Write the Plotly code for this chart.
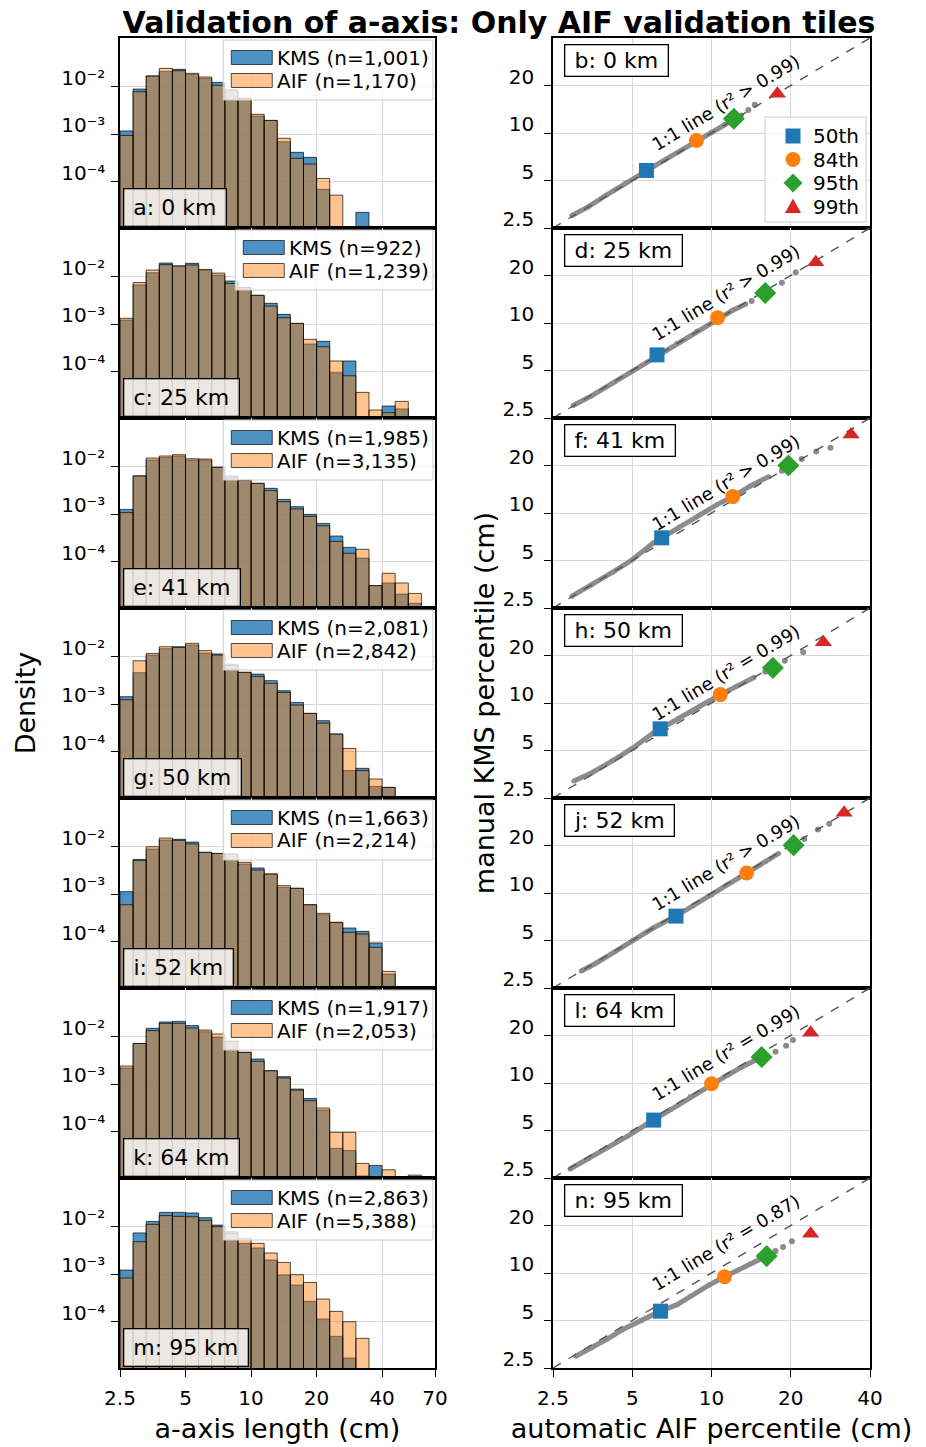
import math
import plotly.graph_objects as go

W, H = 926, 1447
FONT = "DejaVu Sans"

# ---------------- data ----------------
# histogram bins: log-spaced, 5 bins per doubling starting at 2.5 cm
BIN_START = 2.5
BINS_PER_DOUBLING = 5

left_labels = ["a: 0 km", "c: 25 km", "e: 41 km", "g: 50 km", "i: 52 km", "k: 64 km", "m: 95 km"]
right_labels = ["b: 0 km", "d: 25 km", "f: 41 km", "h: 50 km", "j: 52 km", "l: 64 km", "n: 95 km"]

kms_n = ["1,001", "922", "1,985", "2,081", "1,663", "1,917", "2,863"]
aif_n = ["1,170", "1,239", "3,135", "2,842", "2,214", "2,053", "5,388"]

# densities per bin (0 = empty bin)
kms_a = [1.17e-3, 8.9e-3, 1.68e-2, 2.10e-2, 2.32e-2, 1.82e-2, 1.50e-2, 1.23e-2, 8.5e-3, 5.7e-3,
         2.41e-3, 1.95e-3, 6.95e-4, 4.15e-4, 3.25e-4, 6.9e-5, 0, 0, 2.26e-5]
aif_a = [9.4e-4, 7.85e-3, 1.68e-2, 2.43e-2, 2.17e-2, 1.91e-2, 1.60e-2, 1.07e-2, 8.5e-3, 5.7e-3,
         2.62e-3, 1.95e-3, 8.2e-4, 3.1e-4, 2.35e-4, 1.17e-4, 5.2e-5]
kms_c = [1.22e-3, 6.7e-3, 1.21e-2, 1.94e-2, 1.68e-2, 1.91e-2, 1.38e-2, 1.08e-2, 8.1e-3, 5.9e-3,
         4.05e-3, 2.75e-3, 1.61e-3, 1.04e-3, 3.82e-4, 4.35e-4, 9.5e-5, 1.68e-4, 0, 0, 1.89e-5, 1.64e-5]
aif_c = [1.33e-3, 7.5e-3, 1.38e-2, 1.79e-2, 1.68e-2, 1.76e-2, 1.42e-2, 1.19e-2, 7.2e-3, 5.9e-3,
         4.05e-3, 2.41e-3, 1.37e-3, 1.04e-3, 4.8e-4, 3.36e-4, 1.68e-4, 8.2e-5, 3.67e-5, 1.56e-5, 1.37e-5, 2.37e-5]
kms_e = [1.26e-3, 6.4e-3, 1.38e-2, 1.57e-2, 1.68e-2, 1.38e-2, 1.38e-2, 9.7e-3, 6.4e-3, 5.2e-3,
         4.46e-3, 3.5e-3, 2.05e-3, 1.44e-3, 9.9e-4, 6.4e-4, 3.47e-4, 2.0e-4, 1.19e-4, 3.13e-5,
         3.56e-5, 2.08e-5, 1.33e-5]
aif_e = [1.08e-3, 6.4e-3, 1.52e-2, 1.68e-2, 1.79e-2, 1.47e-2, 1.45e-2, 9.7e-3, 5.8e-3, 5.2e-3,
         4.46e-3, 3.13e-3, 1.83e-3, 1.29e-3, 9.0e-4, 5.7e-4, 2.68e-4, 1.5e-4, 1.82e-4, 3.13e-5,
         5.7e-5, 3.56e-5, 2.15e-5]
kms_g = [1.44e-3, 4.6e-3, 1.08e-2, 1.47e-2, 1.62e-2, 1.76e-2, 1.19e-2, 1.14e-2, 7.0e-3, 4.68e-3,
         4.3e-3, 3.13e-3, 1.92e-3, 1.09e-3, 6.4e-4, 4.5e-4, 2.35e-4, 4.0e-5, 4.46e-5, 1.86e-5, 1.77e-5]
aif_g = [1.24e-3, 8.2e-3, 1.17e-2, 1.62e-2, 1.57e-2, 1.91e-2, 1.34e-2, 1.08e-2, 6.5e-3, 4.68e-3,
         3.85e-3, 2.75e-3, 1.77e-3, 9.6e-4, 6.4e-4, 4.0e-4, 2.35e-4, 1.17e-4, 4.0e-5, 2.66e-5, 1.77e-5]
kms_i = [1.13e-3, 5.4e-3, 8.9e-3, 1.38e-2, 1.43e-2, 1.25e-2, 7.6e-3, 7.2e-3, 7.0e-3, 4.3e-3,
         3.56e-3, 2.66e-3, 1.39e-3, 1.33e-3, 6.0e-4, 3.7e-4, 2.55e-4, 1.94e-4, 1.65e-4, 9.4e-5, 2.08e-5]
aif_i = [6.0e-4, 5.15e-3, 1.0e-2, 1.52e-2, 1.36e-2, 1.14e-2, 7.6e-3, 7.2e-3, 7.0e-3, 4.68e-3,
         3.23e-3, 2.66e-3, 1.51e-3, 1.33e-3, 6.0e-4, 3.95e-4, 2.55e-4, 1.57e-4, 1.45e-4, 7.6e-5, 2.37e-5]
kms_k = [2.19e-3, 7.2e-3, 1.50e-2, 2.04e-2, 2.10e-2, 1.71e-2, 1.27e-2, 9.7e-3, 8.0e-3, 4.68e-3,
         3.39e-3, 1.92e-3, 1.44e-3, 7.9e-4, 5.0e-4, 2.86e-4, 4.46e-5, 4.0e-5, 1.17e-5, 1.95e-5]
aif_k = [2.41e-3, 7.2e-3, 1.34e-2, 1.91e-2, 1.91e-2, 1.52e-2, 1.38e-2, 1.14e-2, 8.0e-3, 4.68e-3,
         3.03e-3, 1.92e-3, 1.35e-3, 7.5e-4, 4.5e-4, 3.15e-4, 9.7e-5, 9.7e-5, 2.15e-5, 0, 1.58e-5, 0, 1.22e-5]
kms_m = [1.22e-3, 7.4e-3, 1.29e-2, 2.0e-2, 2.0e-2, 1.94e-2, 1.55e-2, 1.08e-2, 7.85e-3, 4.46e-3,
         3.56e-3, 1.99e-3, 9.6e-4, 5.9e-4, 2.68e-4, 1.14e-4, 4.9e-5, 1.72e-5]
aif_m = [8.3e-4, 4.83e-3, 1.12e-2, 1.71e-2, 1.65e-2, 1.62e-2, 1.36e-2, 1.0e-2, 7.2e-3, 5.7e-3,
         4.46e-3, 2.79e-3, 1.77e-3, 9.75e-4, 6.7e-4, 3.0e-4, 1.65e-4, 1.0e-4, 4.46e-5]

kms_hist = [kms_a, kms_c, kms_e, kms_g, kms_i, kms_k, kms_m]
aif_hist = [aif_a, aif_c, aif_e, aif_g, aif_i, aif_k, aif_m]

# Q-Q plots: percentile curve (automatic AIF x, manual KMS y)
qq_curve_x = [
    [2.95, 3.4, 4.0, 4.7, 5.66, 6.6, 7.6, 8.77, 10.0, 11.2, 12.2, 13.0],
    [2.98, 3.5, 4.2, 5.0, 6.2, 7.4, 8.8, 10.5, 12.0, 13.5],
    [2.95, 3.5, 4.2, 5.0, 6.0, 6.47, 7.5, 9.0, 10.5, 12.04, 14.0, 16.5],
    [3.0, 3.5, 4.2, 5.0, 6.0, 6.38, 7.5, 9.0, 10.8, 12.5, 14.5],
    [3.2, 3.6, 4.3, 5.0, 6.0, 7.33, 8.5, 10.0, 11.5, 13.6, 16.0, 18.0],
    [2.9, 3.4, 4.0, 4.8, 5.6, 6.03, 7.0, 8.3, 10.0, 11.5, 13.0, 15.5],
    [3.05, 3.5, 4.0, 4.6, 5.4, 6.4, 7.4, 8.3, 9.8, 11.2, 12.5, 14.0, 16.2],
]
qq_curve_y = [
    [3.0, 3.4, 4.05, 4.8, 5.75, 6.7, 7.7, 8.9, 10.1, 11.3, 12.3, 13.0],
    [3.0, 3.45, 4.15, 4.95, 6.25, 7.45, 8.9, 10.7, 12.0, 13.2],
    [2.97, 3.5, 4.2, 5.05, 6.45, 6.96, 8.1, 9.7, 11.3, 12.7, 14.8, 17.0],
    [3.2, 3.6, 4.3, 5.15, 6.45, 6.86, 8.0, 9.5, 11.3, 12.8, 14.5],
    [3.2, 3.55, 4.25, 5.0, 6.0, 7.14, 8.3, 9.7, 11.3, 13.4, 15.8, 17.8],
    [2.85, 3.3, 3.9, 4.6, 5.4, 5.82, 6.8, 8.2, 9.9, 11.2, 12.6, 14.6],
    [2.97, 3.35, 3.8, 4.38, 5.0, 5.73, 6.3, 7.1, 8.4, 9.47, 10.35, 11.4, 12.8],
]
qq_tail_x = [[13.8, 14.6], [14.2, 18.5, 20.9], [18.5, 22.0, 25.0, 28.3], [16.0, 19.0, 22.3],
             [22.5, 25.4, 28.0], [17.5, 19.2, 20.4], [17.5, 18.7, 20.2]]
qq_tail_y = [[14.0, 15.1], [13.8, 18.0, 21.0], [18.5, 22.0, 24.5, 25.9], [15.8, 18.5, 21.0],
             [22.0, 25.3, 27.5], [15.8, 17.2, 18.7], [13.8, 14.6, 15.9]]

pct_names = ["50th", "84th", "95th", "99th"]
pct_x = [[5.66, 8.77, 12.16, 17.8], [6.21, 10.54, 16.0, 24.9], [6.47, 12.04, 19.6, 33.9],
         [6.38, 10.8, 17.1, 26.6], [7.33, 13.6, 20.5, 31.9], [6.03, 10.0, 15.5, 23.8],
         [6.4, 11.2, 16.2, 23.8]]
pct_y = [[5.79, 8.96, 12.3, 17.7], [6.28, 10.8, 15.5, 24.3], [6.96, 12.7, 20.0, 31.4],
         [6.86, 11.3, 16.7, 24.3], [7.14, 13.4, 20.1, 32.2], [5.82, 9.9, 14.6, 20.8],
         [5.73, 9.47, 12.8, 17.7]]
r2_text = ["> 0.99", "> 0.99", "> 0.99", "= 0.99", "> 0.99", "= 0.99", "= 0.87"]

hist_ticks = [2.5, 5, 10, 20, 40, 70]
qq_ticks = [2.5, 5, 10, 20, 40]
qq_yticks = [2.5, 5, 10, 20]
dens_ticks = [1e-4, 1e-3, 1e-2]
dens_ticktext = ["10⁻⁴", "10⁻³", "10⁻²"]

# ---------------- styles / layout constants ----------------
KMS_FILL = "rgba(31,119,180,0.8)"
AIF_FILL = "rgba(255,127,14,0.46)"
PCT_COLORS = ["#1f77b4", "#ff7f0e", "#2ca02c", "#d62728"]
PCT_SYMBOLS = ["square", "circle", "diamond", "triangle-up"]
PCT_SIZES = [15, 15, 17, 15]
GRID = "#d9d9d9"
GRAY = "#8c8c8c"
FLOOR = 1e-8

TOP0, ROWH = 38, 190
LX, RX = (120, 435), (553, 870)
left_box_w = [101, 114, 115, 116, 108, 114, 123]
right_box_w = [102, 116, 109, 116, 108, 108, 116]

# DejaVu Sans advance widths (em) for the legend texts
CW = {**{d: 0.636 for d in "0123456789"}, ",": 0.318, "(": 0.390, ")": 0.390, "=": 0.838,
      " ": 0.318, "K": 0.656, "M": 0.863, "S": 0.635, "A": 0.684, "I": 0.295, "F": 0.575,
      "n": 0.634}
LEG_FS = 20


def text_w(s, fs):
    return sum(CW.get(c, 0.6) for c in s) * fs


def px(x):
    return x / W


def py(y):
    return 1 - y / H


def ydom(r):
    top = TOP0 + r * ROWH
    return [1 - (top + ROWH) / H, 1 - top / H]


def suffix(n):
    return "" if n == 1 else str(n)


def bars(vals):
    xs, ys = [], []
    for k, v in enumerate(vals):
        if v and v > 0:
            lo = BIN_START * 2 ** (k / BINS_PER_DOUBLING)
            hi = BIN_START * 2 ** ((k + 1) / BINS_PER_DOUBLING)
            xs += [lo, lo, hi, hi, lo, None]
            ys += [FLOOR, v, v, FLOOR, FLOOR, None]
    return xs, ys


fig = go.Figure()
annotations = []
shapes = []
layout = dict()
tickfont = dict(family=FONT, size=20, color="black")
axis_common = dict(showgrid=True, gridcolor=GRID, gridwidth=1, zeroline=False, showline=True,
                   mirror=True, linecolor="black", linewidth=1.6, tickfont=tickfont,
                   tickcolor="black", tickwidth=1.3, ticklen=7, automargin=False)

for r in range(7):
    nl, nr = 2 * r + 1, 2 * r + 2
    last = (r == 6)
    top = TOP0 + r * ROWH

    # ---- histogram panel ----
    labs = [f"KMS (n={kms_n[r]})", f"AIF (n={aif_n[r]})"]
    for vals, fillc, lab in [(kms_hist[r], KMS_FILL, labs[0]), (aif_hist[r], AIF_FILL, labs[1])]:
        xs, ys = bars(vals)
        fig.add_trace(go.Scatter(x=xs, y=ys, mode="lines", fill="toself", fillcolor=fillc,
                                 line=dict(color="rgba(0,0,0,0.85)", width=0.8),
                                 name=lab, showlegend=False, hoverinfo="skip",
                                 xaxis="x" + suffix(nl), yaxis="y" + suffix(nl)))
    layout["xaxis" + suffix(nl)] = dict(
        axis_common, domain=[px(LX[0]), px(LX[1])], anchor="y" + suffix(nl), type="log",
        range=[math.log10(2.5), math.log10(70)], tickvals=hist_ticks,
        ticktext=[str(t) for t in hist_ticks], showticklabels=last,
        ticks="outside" if last else "", ticklabelstandoff=4)
    layout["yaxis" + suffix(nl)] = dict(
        axis_common, domain=ydom(r), anchor="x" + suffix(nl), type="log", range=[-4.975, -0.975],
        tickvals=dens_ticks, ticktext=dens_ticktext, ticks="outside", ticklabelshift=-9,
        ticklabelstandoff=2)

    # hand-built legend (patch + label) in the top-right corner
    tw = max(text_w(s, LEG_FS) for s in labs)
    tleft = 427 - tw
    shapes.append(dict(type="rect", xref="paper", yref="paper", x0=px(tleft - 52), x1=px(433),
                       y0=py(top + 62), y1=py(top + 2), fillcolor="rgba(255,255,255,0.8)",
                       line=dict(color="#cccccc", width=1), layer="above"))
    for j, (lab, fillc) in enumerate(zip(labs, [KMS_FILL, AIF_FILL])):
        yc = top + 19.5 + 23 * j
        shapes.append(dict(type="rect", xref="paper", yref="paper", x0=px(tleft - 44), x1=px(tleft - 3),
                           y0=py(yc + 7), y1=py(yc - 7), fillcolor=fillc,
                           line=dict(color="rgba(0,0,0,0.85)", width=0.8), layer="above"))
        annotations.append(dict(text=lab, xref="paper", yref="paper", x=px(tleft), y=py(yc),
                                xanchor="left", yanchor="middle", showarrow=False,
                                font=dict(family=FONT, size=LEG_FS, color="black")))

    annotations.append(dict(
        text=left_labels[r], xref="paper", yref="paper", x=px(123), y=py(top + ROWH - 1),
        xanchor="left", yanchor="bottom", showarrow=False, width=left_box_w[r], height=36,
        bgcolor="rgba(255,255,255,0.8)", bordercolor="black", borderwidth=1.3, borderpad=0,
        font=dict(family=FONT, size=22, color="black")))

    # ---- Q-Q panel ----
    xa, ya = "x" + suffix(nr), "y" + suffix(nr)
    fig.add_trace(go.Scatter(x=qq_curve_x[r], y=qq_curve_y[r], mode="lines+markers",
                             line=dict(color=GRAY, width=5), marker=dict(color=GRAY, size=5),
                             showlegend=False, hoverinfo="skip", xaxis=xa, yaxis=ya))
    fig.add_trace(go.Scatter(x=qq_tail_x[r], y=qq_tail_y[r], mode="markers",
                             marker=dict(color=GRAY, size=6),
                             showlegend=False, hoverinfo="skip", xaxis=xa, yaxis=ya))
    fig.add_trace(go.Scatter(x=[2.5, 40], y=[2.5, 40], mode="lines",
                             line=dict(color="#555555", width=1.4, dash="dash"),
                             showlegend=False, hoverinfo="skip", xaxis=xa, yaxis=ya))
    for p in range(4):
        fig.add_trace(go.Scatter(x=[pct_x[r][p]], y=[pct_y[r][p]], mode="markers",
                                 marker=dict(color=PCT_COLORS[p], symbol=PCT_SYMBOLS[p],
                                             size=PCT_SIZES[p], line=dict(width=0)),
                                 name=pct_names[p], showlegend=False,
                                 hoverinfo="skip", xaxis=xa, yaxis=ya))
    layout["xaxis" + suffix(nr)] = dict(
        axis_common, domain=[px(RX[0]), px(RX[1])], anchor=ya, type="log",
        range=[math.log10(2.5), math.log10(40)], tickvals=qq_ticks,
        ticktext=[str(t) for t in qq_ticks], showticklabels=last,
        ticks="outside" if last else "", ticklabelstandoff=4)
    layout["yaxis" + suffix(nr)] = dict(
        axis_common, domain=ydom(r), anchor=xa, type="log", range=[math.log10(2.5), math.log10(40)],
        tickvals=qq_yticks, ticktext=[str(t) for t in qq_yticks], ticks="outside",
        ticklabelshift=-9, ticklabelstandoff=6)
    annotations.append(dict(
        text=right_labels[r], xref="paper", yref="paper", x=px(564), y=py(top + 6),
        xanchor="left", yanchor="top", showarrow=False, width=right_box_w[r], height=30,
        bgcolor="white", bordercolor="black", borderwidth=1.3, borderpad=0,
        font=dict(family=FONT, size=22, color="black")))
    annotations.append(dict(
        text=f"1:1 line (r² {r2_text[r]})", xref=xa, yref=ya,
        x=math.log10(11.35), y=math.log10(15.5), showarrow=False, textangle=-31,
        xanchor="center", yanchor="middle", font=dict(family=FONT, size=18, color="black")))

# hand-built percentile legend in panel b
shapes.append(dict(type="rect", xref="paper", yref="paper", x0=px(765), x1=px(866),
                   y0=py(222), y1=py(117), fillcolor="rgba(255,255,255,0.8)",
                   line=dict(color="#cccccc", width=1), layer="above"))
LCX = 793
leg_y = [136, 159.5, 183, 206.5]
shapes.append(dict(type="rect", xref="paper", yref="paper", x0=px(LCX - 7.5), x1=px(LCX + 7.5),
                   y0=py(leg_y[0] + 7.5), y1=py(leg_y[0] - 7.5), fillcolor=PCT_COLORS[0],
                   line=dict(width=0), layer="above"))
shapes.append(dict(type="circle", xref="paper", yref="paper", x0=px(LCX - 7.5), x1=px(LCX + 7.5),
                   y0=py(leg_y[1] + 7.5), y1=py(leg_y[1] - 7.5), fillcolor=PCT_COLORS[1],
                   line=dict(width=0), layer="above"))
yd = leg_y[2]
shapes.append(dict(type="path", xref="paper", yref="paper",
                   path=f"M {px(LCX)},{py(yd - 9.5)} L {px(LCX + 9.5)},{py(yd)} L {px(LCX)},{py(yd + 9.5)} L {px(LCX - 9.5)},{py(yd)} Z",
                   fillcolor=PCT_COLORS[2], line=dict(width=0), layer="above"))
yt = leg_y[3]
shapes.append(dict(type="path", xref="paper", yref="paper",
                   path=f"M {px(LCX)},{py(yt - 8)} L {px(LCX + 8)},{py(yt + 6.5)} L {px(LCX - 8)},{py(yt + 6.5)} Z",
                   fillcolor=PCT_COLORS[3], line=dict(width=0), layer="above"))
for name, yc in zip(pct_names, leg_y):
    annotations.append(dict(text=name, xref="paper", yref="paper", x=px(811), y=py(yc),
                            xanchor="left", yanchor="middle", showarrow=False,
                            font=dict(family=FONT, size=LEG_FS, color="black")))

# axis titles
tfont = dict(family=FONT, size=27, color="black")
layout["xaxis13"]["title"] = dict(text="a-axis length (cm)", font=tfont, standoff=10)
layout["xaxis14"]["title"] = dict(text="automatic AIF percentile (cm)", font=tfont, standoff=10)
layout["yaxis7"]["title"] = dict(text="Density", font=tfont, standoff=18)
layout["yaxis8"]["title"] = dict(text="manual KMS percentile (cm)", font=tfont, standoff=0)

fig.update_layout(
    width=W, height=H, margin=dict(l=0, r=0, t=0, b=0),
    paper_bgcolor="white", plot_bgcolor="white",
    font=dict(family=FONT, size=20, color="black"),
    title=dict(text="<b>Validation of a-axis: Only AIF validation tiles</b>", x=499 / W, xanchor="center",
               y=1 - 22 / H, yanchor="middle", font=dict(family=FONT, size=30, color="black")),
    annotations=annotations, shapes=shapes, showlegend=False, hovermode=False,
    **layout,
)

fig.write_html("out.html")
